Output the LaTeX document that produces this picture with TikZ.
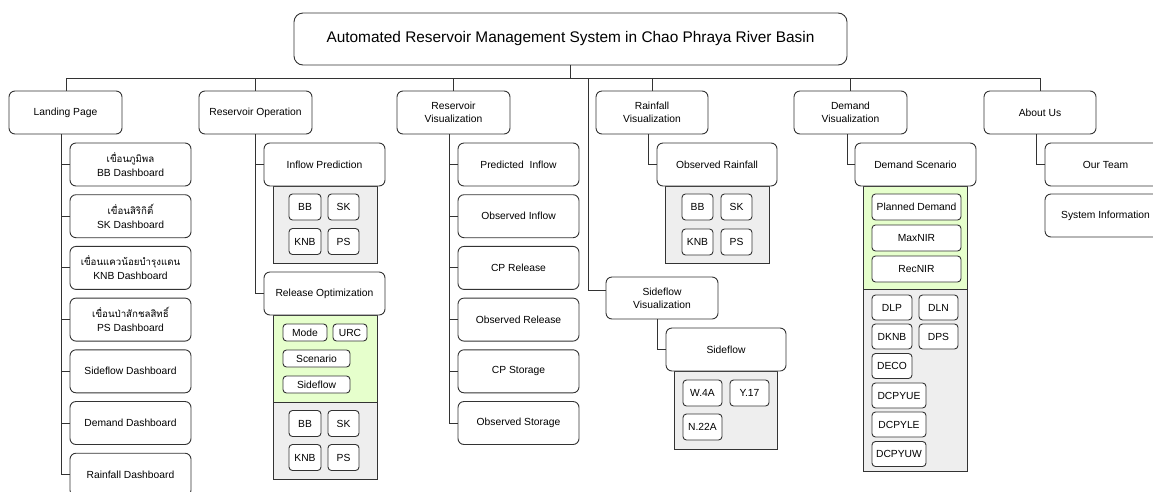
\documentclass[tikz,border=0pt]{standalone}
\usepackage{fontspec}
\setmainfont{Liberation Sans}
\newfontfamily\thaifont[Script=Thai]{Loma}
\definecolor{panelgray}{HTML}{EEEEEE}
\definecolor{panelgreen}{HTML}{E6FFCC}
\definecolor{edgecol}{HTML}{333333}
\newcommand\Bx[6]{\node[#1, minimum width=#4pt, minimum height=#5pt] (#2) at (#3) {#6};}
\newcommand\thtxt[1]{{\thaifont\fontsize{9.7}{12}\selectfont #1}}
\begin{document}
\begin{tikzpicture}[x=1pt,y=-1pt,
  bx/.style={draw=edgecol, line width=0.9pt, rounded corners=6pt, fill=white, align=center, inner sep=0pt, font=\fontsize{10.3}{13}\selectfont},
  ttl/.style={bx, rounded corners=9pt, font=\fontsize{15.4}{18}\selectfont},
  sm/.style={draw=edgecol, line width=0.9pt, rounded corners=3.5pt, fill=white, align=center, inner sep=0pt, font=\fontsize{10.3}{12}\selectfont},
  ln/.style={draw=edgecol, line width=0.9pt},
  pgray/.style={draw=edgecol, line width=0.9pt, fill=panelgray},
  pgreen/.style={draw=edgecol, line width=0.9pt, fill=panelgreen}]
\useasboundingbox[fill=white] (0,0) rectangle (1153,491);

% panels
\draw[pgray] (273,186) rectangle (377,263);
\draw[pgreen] (273,315) rectangle (377,402);
\draw[pgray] (273,402) rectangle (377,479);
\draw[pgray] (665,186) rectangle (769,263);
\draw[pgray] (674,371) rectangle (777,449);
\draw[pgreen] (863,186) rectangle (967,289);
\draw[pgray] (863,289) rectangle (967,471);

% title
\Bx{ttl}{title}{570.5,39}{553}{52}{Automated Reservoir Management System in Chao Phraya River Basin}

% second level
\Bx{bx}{lp}{65.5,112.5}{113}{43}{Landing Page}
\Bx{bx}{rop}{255.5,112.5}{113}{43}{Reservoir Operation}
\Bx{bx}{rv}{453.5,112.5}{113}{43}{Reservoir\\Visualization}
\Bx{bx}{rfv}{652,112.5}{112}{43}{Rainfall\\Visualization}
\Bx{bx}{sv}{662,298}{112}{42}{Sideflow\\Visualization}
\Bx{bx}{dv}{850.5,112.5}{113}{43}{Demand\\Visualization}
\Bx{bx}{ab}{1040,112.5}{112}{43}{About Us}

% landing page children
\Bx{bx}{lc1}{130.5,164.5}{121}{43}{\thtxt{เขื่อนภูมิพล}\\[1pt]BB Dashboard}
\Bx{bx}{lc2}{130.5,216.2}{121}{43}{\thtxt{เขื่อนสิริกิติ์}\\[1pt]SK Dashboard}
\Bx{bx}{lc3}{130.5,267.9}{121}{43}{\thtxt{เขื่อนแควน้อยบำรุงแดน}\\[1pt]KNB Dashboard}
\Bx{bx}{lc4}{130.5,319.6}{121}{43}{\thtxt{เขื่อนป่าสักชลสิทธิ์}\\[1pt]PS Dashboard}
\Bx{bx}{lc5}{130.5,371.3}{121}{43}{Sideflow Dashboard}
\Bx{bx}{lc6}{130.5,423}{121}{43}{Demand Dashboard}
\Bx{bx}{lc7}{130.5,474.7}{121}{43}{Rainfall Dashboard}

% reservoir operation
\Bx{bx}{ip}{324.5,164.5}{121}{43}{Inflow Prediction}
\Bx{sm}{ipbb}{305,207}{32}{26}{BB}
\Bx{sm}{ipsk}{343.5,207}{31}{26}{SK}
\Bx{sm}{ipknb}{305,241.5}{32}{26}{KNB}
\Bx{sm}{ipps}{343.5,241.5}{31}{26}{PS}
\Bx{bx}{ro}{324.5,293.5}{121}{43}{Release Optimization}
\Bx{sm}{romode}{305,332.5}{44}{17}{Mode}
\Bx{sm}{rourc}{350,332.5}{34}{17}{URC}
\Bx{sm}{rosc}{316.5,358.5}{67}{17}{Scenario}
\Bx{sm}{rosf}{316.5,384.5}{67}{17}{Sideflow}
\Bx{sm}{robb}{305,423.5}{32}{26}{BB}
\Bx{sm}{rosk}{343.5,423.5}{31}{26}{SK}
\Bx{sm}{roknb}{305,457.5}{32}{26}{KNB}
\Bx{sm}{rops}{343.5,457.5}{31}{26}{PS}

% reservoir visualization children
\Bx{bx}{rv1}{518.5,164.5}{121}{43}{Predicted\ \ Inflow}
\Bx{bx}{rv2}{518.5,216.2}{121}{43}{Observed Inflow}
\Bx{bx}{rv3}{518.5,267.9}{121}{43}{CP Release}
\Bx{bx}{rv4}{518.5,319.6}{121}{43}{Observed Release}
\Bx{bx}{rv5}{518.5,371.3}{121}{43}{CP Storage}
\Bx{bx}{rv6}{518.5,423}{121}{43}{Observed Storage}

% rainfall
\Bx{bx}{orf}{717,164.5}{120}{43}{Observed Rainfall}
\Bx{sm}{rfbb}{697.5,207}{31}{26}{BB}
\Bx{sm}{rfsk}{736.5,207}{31}{26}{SK}
\Bx{sm}{rfknb}{697.5,242}{31}{26}{KNB}
\Bx{sm}{rfps}{736.5,242}{31}{26}{PS}

% sideflow
\Bx{bx}{sf}{726,349.5}{120}{43}{Sideflow}
\Bx{sm}{sfw}{702.5,393}{39}{26}{W.4A}
\Bx{sm}{sfy}{749.5,393}{39}{26}{Y.17}
\Bx{sm}{sfn}{702.5,427}{39}{26}{N.22A}

% demand
\Bx{bx}{ds}{915.5,164.5}{121}{43}{Demand Scenario}
\Bx{sm}{dpd}{916.5,207}{89}{26}{Planned Demand}
\Bx{sm}{dmax}{916.5,238}{89}{26}{MaxNIR}
\Bx{sm}{drec}{916.5,269}{89}{26}{RecNIR}
\Bx{sm}{dlp}{892,307.5}{40}{25}{DLP}
\Bx{sm}{dln}{938.5,307.5}{39}{25}{DLN}
\Bx{sm}{dknb}{892,336.5}{40}{25}{DKNB}
\Bx{sm}{dps}{938.5,336.5}{39}{25}{DPS}
\Bx{sm}{deco}{892,366}{40}{25}{DECO}
\Bx{sm}{due}{899,395.5}{54}{25}{DCPYUE}
\Bx{sm}{dle}{899,424.5}{54}{25}{DCPYLE}
\Bx{sm}{duw}{899,454}{54}{25}{DCPYUW}

% about us
\Bx{bx}{team}{1105.5,164.5}{121}{43}{Our Team}
\Bx{bx}{sysinfo}{1105.5,215.5}{121}{43}{System Information}

% connectors: top bus
\coordinate (bus) at (0,78);
\coordinate (sfx) at (588,78);
\draw[ln] (title.south) -- (title.south |- bus);
\draw[ln] ([xshift=0.5pt]lp.north) -- ([xshift=0.5pt]lp.north |- bus) -| (ab.north);
\foreach \n in {rop,rv,rfv,dv} \draw[ln] (\n.north) -- (\n.north |- bus);
\draw[ln] (sfx) |- ([yshift=8pt]sv.west);

% landing page trunk
\foreach \n in {lc1,lc2,lc3,lc4,lc5,lc6,lc7} \draw[ln] ([xshift=-4.5pt]lp.south) |- (\n.west);
% reservoir operation
\draw[ln] (rop.south) |- (ip.west);
\draw[ln] (rop.south) |- (ro.west);
% reservoir visualization
\foreach \n in {rv1,rv2,rv3,rv4,rv5,rv6} \draw[ln] ([xshift=-4.5pt]rv.south) |- (\n.west);
% rainfall
\draw[ln] ([xshift=-4pt]rfv.south) |- (orf.west);
% sideflow
\draw[ln] ([xshift=-5pt]sv.south) |- (sf.west);
% demand
\draw[ln] ([xshift=-3.5pt]dv.south) |- (ds.west);
% about
\draw[ln] ([xshift=-4pt]ab.south) |- (team.west);
\end{tikzpicture}
\end{document}
